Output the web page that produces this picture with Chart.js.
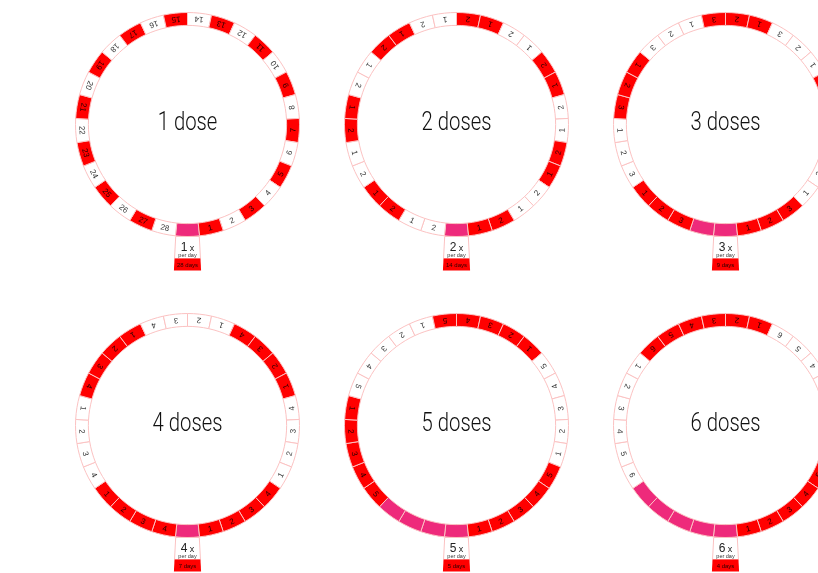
<!DOCTYPE html>
<html>
<head>
<meta charset="utf-8">
<script src="https://cdn.jsdelivr.net/npm/chart.js@4.4.1/dist/chart.umd.min.js"></script>
<style>
  html, body { margin: 0; padding: 0; background: #fff; overflow: hidden; }
  #wrap { position: relative; width: 818px; height: 573px; overflow: hidden; }
  .cell { position: absolute; width: 270px; height: 300px; }
</style>
</head>
<body>
<div id="wrap"></div>
<script>
// doses per day, number of days, texts
const doseCounts = [1, 2, 3, 4, 5, 6];
const dayCounts = [28, 14, 9, 7, 5, 4];
const centerLabels = ["1 dose", "2 doses", "3 doses", "4 doses", "5 doses", "6 doses"];
const timesLabels = ["1", "2", "3", "4", "5", "6"];
const perDayLabel = "per day";
const daysLabels = ["28 days", "14 days", "9 days", "7 days", "5 days", "4 days"];
const slotCount = 29;

const cellLeft = [52.5, 321.5, 590.5];
const cellTop = [0, 300.5];

const RED = '#ff0000', WHITE = '#ffffff', PINK = '#ee2a7b', EDGE = '#fbc2c2';
const plain = '"Liberation Sans", "DejaVu Sans", sans-serif';

function buildSlots(doses, days) {
  // counter-clockwise order from the bottom slot
  let ccw = [{label: '', color: PINK}];
  for (let d = 1; d <= days; d++) {
    for (let k = 1; k <= doses; k++) {
      ccw.push({label: String(doses == 1 ? d : k), color: d % 2 == 1 ? RED : WHITE});
    }
  }
  while (ccw.length < slotCount) ccw.push({label: '', color: PINK});
  // chart.js draws clockwise: first slot, then the rest reversed
  return [ccw[0]].concat(ccw.slice(1).reverse());
}

const ringText = {
  id: 'ringText',
  afterDatasetsDraw(chart, args, opts) {
    const ctx = chart.ctx;
    const arcs = chart.getDatasetMeta(0).data;
    const labels = chart.data.labels;
    const fills = chart.data.datasets[0].backgroundColor;
    ctx.save();
    arcs.forEach((arc, i) => {
      if (!labels[i]) return;
      const p = arc.getProps(['x', 'y', 'startAngle', 'endAngle', 'innerRadius', 'outerRadius'], true);
      const a = (p.startAngle + p.endAngle) / 2;
      const r = (p.innerRadius + p.outerRadius) / 2;
      ctx.save();
      ctx.translate(p.x + Math.cos(a) * r, p.y + Math.sin(a) * r);
      ctx.rotate(a - Math.PI / 2);
      ctx.fillStyle = fills[i] == RED ? '#2a0000' : '#333';
      ctx.font = '8px ' + plain;
      ctx.textAlign = 'center';
      ctx.textBaseline = 'middle';
      ctx.fillText(labels[i], 0, 0.5);
      ctx.restore();
    });

    const p = arcs[0].getProps(['x', 'y', 'outerRadius'], true);
    const R = p.outerRadius;
    // center title, squeezed to look condensed
    ctx.save();
    ctx.translate(p.x, p.y);
    ctx.scale(0.78, 1);
    ctx.fillStyle = '#111';
    ctx.font = '300 26px Roboto, "Liberation Sans", sans-serif';
    ctx.textAlign = 'center';
    ctx.textBaseline = 'middle';
    ctx.fillText(opts.title, 0, -1);
    ctx.restore();

    // tab below the ring
    const top = p.y + R, bottom = p.y + R + 34;
    const hw1 = 11.8, hw2 = 13.6;
    const mid = p.y + R + 22;
    const hwm = hw1 + (hw2 - hw1) * 22 / 34;
    ctx.beginPath();
    ctx.moveTo(p.x - hw1, top);
    ctx.lineTo(p.x + hw1, top);
    ctx.lineTo(p.x + hwm, mid);
    ctx.lineTo(p.x - hwm, mid);
    ctx.closePath();
    ctx.fillStyle = WHITE;
    ctx.fill();
    ctx.strokeStyle = EDGE;
    ctx.lineWidth = 1;
    ctx.stroke();
    ctx.beginPath();
    ctx.moveTo(p.x - hwm, mid);
    ctx.lineTo(p.x + hwm, mid);
    ctx.lineTo(p.x + hw2, bottom);
    ctx.lineTo(p.x - hw2, bottom);
    ctx.closePath();
    ctx.fillStyle = RED;
    ctx.fill();

    ctx.fillStyle = '#222';
    ctx.textBaseline = 'alphabetic';
    ctx.font = '12px ' + plain;
    const w1 = ctx.measureText(opts.times).width;
    ctx.font = '9px ' + plain;
    const w2 = ctx.measureText(' x').width;
    const sx = p.x - (w1 + w2) / 2;
    ctx.textAlign = 'left';
    ctx.font = '12px ' + plain;
    ctx.fillText(opts.times, sx, top + 14);
    ctx.font = '9px ' + plain;
    ctx.fillText(' x', sx + w1, top + 14);
    ctx.textAlign = 'center';
    ctx.font = '5.5px ' + plain;
    ctx.fillStyle = '#333';
    ctx.fillText(perDayLabel, p.x, top + 20);
    ctx.fillStyle = '#2a0000';
    ctx.textBaseline = 'middle';
    ctx.font = '6px ' + plain;
    ctx.fillText(opts.days, p.x, mid + 6.5);
    ctx.restore();
  }
};

const wrap = document.getElementById('wrap');
doseCounts.forEach((doses, idx) => {
  const cell = document.createElement('div');
  cell.className = 'cell';
  cell.style.left = cellLeft[idx % 3] + 'px';
  cell.style.top = cellTop[Math.floor(idx / 3)] + 'px';
  const cv = document.createElement('canvas');
  cv.width = 270; cv.height = 300;
  cell.appendChild(cv);
  wrap.appendChild(cell);

  const slots = buildSlots(doses, dayCounts[idx]);
  new Chart(cv, {
    type: 'doughnut',
    data: {
      labels: slots.map(s => s.label),
      datasets: [{
        data: slots.map(() => 1),
        backgroundColor: slots.map(s => s.color),
        borderColor: EDGE,
        borderWidth: 1,
        hoverOffset: 0
      }]
    },
    options: {
      responsive: false,
      animation: false,
      rotation: 180 - 180 / slotCount,
      cutout: '88.5%',
      layout: { padding: { top: 12, left: 22, right: 23, bottom: 63 } },
      plugins: {
        legend: { display: false },
        tooltip: { enabled: false },
        ringText: { title: centerLabels[idx], times: timesLabels[idx], days: daysLabels[idx] }
      }
    },
    plugins: [ringText]
  });
});
</script>
</body>
</html>
